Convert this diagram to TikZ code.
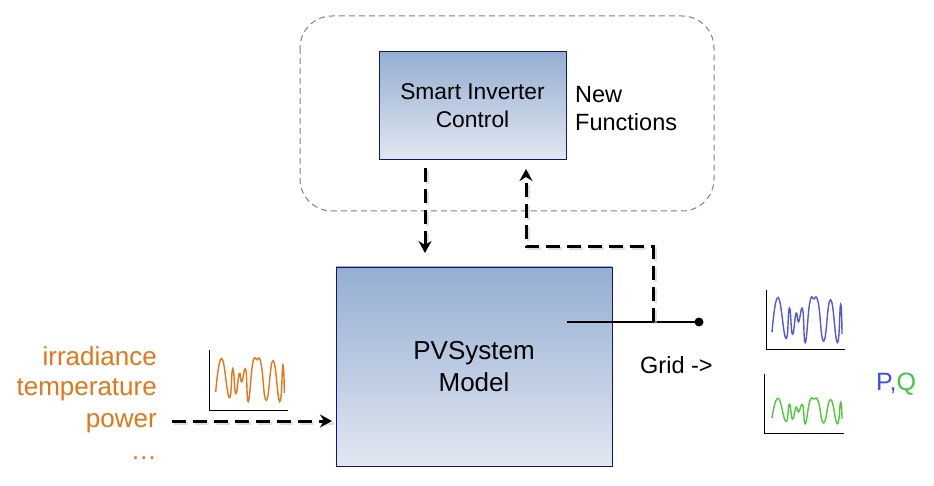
\documentclass[tikz,border=0pt]{standalone}
\usepackage{fontspec}
\setmainfont{Liberation Sans}
\usetikzlibrary{arrows.meta}
\definecolor{boxtop}{RGB}{148,174,210}
\definecolor{boxbot}{RGB}{226,231,241}
\definecolor{boxline}{RGB}{20,20,120}
\definecolor{orangetxt}{RGB}{228,118,24}
\definecolor{wblue}{RGB}{85,85,225}
\definecolor{wgreen}{RGB}{80,200,60}
\definecolor{wgreentxt}{RGB}{60,200,60}
\definecolor{wbluetxt}{RGB}{60,80,230}
\newcommand{\wavepts}{(0,0.23) (0.087,0.99) (0.198,0.10) (0.248,0.76) (0.292,0.19) (0.344,0.65) (0.379,0.46) (0.437,0.74) (0.475,0.01) (0.54,0.88) (0.6,0.96) (0.66,0.88) (0.739,0.04) (0.836,0.94) (0.933,0.01) (0.98,0.84) (1.0,0.2)}
\tikzset{
  blockbox/.style={draw=boxline, line width=0.8pt, top color=boxtop, bottom color=boxbot, align=center, inner sep=0pt},
  bigtxt/.style={font=\fontsize{23.5}{28}\selectfont},
  flow/.style={line width=3pt, dash pattern=on 14pt off 7pt, -{Stealth[length=12pt,width=13pt,inset=4pt]}},
  flowshadow/.style={line width=3pt, dash pattern=on 14pt off 7pt, draw=black!20, opacity=0.6},
  axisline/.style={line width=1pt, draw=black},
  wave/.style={line width=1.4pt, smooth, tension=0.85},
}
\begin{document}
\begin{tikzpicture}[x=1pt,y=-1pt]
\useasboundingbox (0,0) rectangle (934,486);
% dashed group
\draw[gray, line width=1pt, dash pattern=on 6pt off 4pt, rounded corners=32pt] (300,16) rectangle (714,211);
% blocks
\node[blockbox, font=\fontsize{22.8}{27.6}\selectfont, minimum width=187pt, minimum height=108pt] (sic) at (472.5,105.5) {Smart Inverter\\Control};
\node[blockbox, font=\fontsize{26}{31.7}\selectfont, minimum width=276pt, minimum height=199pt] (pv) at (474,366.5) {PVSystem\\Model};
\node[bigtxt, anchor=base west, align=left, inner sep=0pt] (newf) at (575,103) {New};
\node[bigtxt, anchor=base west, align=left, inner sep=0pt] (newf2) at (575,131) {Functions};
% output line
\coordinate (outstart) at (567,322);
\node[circle, fill=black, inner sep=0pt, minimum size=9pt] (dot) at (699,322) {};
\coordinate (junc) at (653,322);
\draw[line width=2.5pt] (outstart) -- (dot.center);
% feedback dashed
\coordinate (fbcorner1) at (653,247);
\coordinate (fbcorner2) at (526,247);
\coordinate (fbtip) at (526,169);
\draw[flowshadow] ([shift={(2,2)}]junc) -- ([shift={(2,2)}]fbcorner1) -- ([shift={(2,2)}]fbcorner2) -- ([shift={(2,2)}]fbtip);
\draw[flow] (junc) -- (fbcorner1) -- (fbcorner2) -- (fbtip);
% control down
\coordinate (dnstart) at (425,168);
\coordinate (dntip) at (425,253);
\draw[flowshadow] ([shift={(2,2)}]dnstart) -- ([shift={(2,2)}]dntip);
\draw[flow] (dnstart) -- (dntip);
% input
\coordinate (instart) at (172,421);
\coordinate (intip) at (332,421);
\draw[flowshadow] ([shift={(2,2)}]instart) -- ([shift={(2,2)}]intip);
\draw[flow] (instart) -- (intip);
% orange labels
\begin{scope}[orangetxt, font=\fontsize{26}{30}\selectfont]
\node[anchor=base east, inner sep=0pt] (l1) at (157,365) {irradiance};
\node[anchor=base east, inner sep=0pt] (l2) at (157,395) {temperature};
\node[anchor=base east, inner sep=0pt] (l3) at (157,427) {power};
\node[anchor=base east, inner sep=0pt] (l4) at (157,459) {\dots};
\end{scope}
% orange chart
\draw[axisline] (209,350) -- (209,410) -- (288,410);
\begin{scope}[shift={(215.7,402)}, xscale=68.6, yscale=-44]
\draw[wave, draw=orangetxt] plot coordinates {\wavepts};
\end{scope}
% blue chart
\draw[axisline] (766,290) -- (766,349) -- (845,349);
\begin{scope}[shift={(772,343)}, xscale=70, yscale=-46]
\draw[wave, draw=wblue] plot coordinates {\wavepts};
\end{scope}
% green chart
\draw[axisline] (764,374) -- (764,433) -- (844,433);
\begin{scope}[shift={(772,424)}, xscale=70, yscale=-26]
\draw[wave, draw=wgreen] plot coordinates {\wavepts};
\end{scope}
% texts
\node[bigtxt, anchor=base west, inner sep=0pt] (grid) at (640,373) {Grid ->};
\node[font=\fontsize{25}{28}\selectfont, anchor=base west, inner sep=0pt] (pq) at (876,390) {\textcolor{wbluetxt}{P,}\textcolor{wgreentxt}{Q}};
\end{tikzpicture}
\end{document}
